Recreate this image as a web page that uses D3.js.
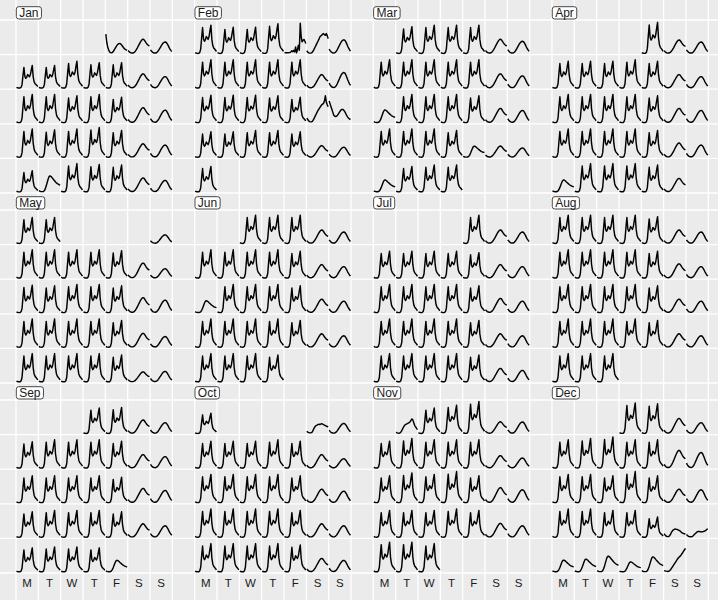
<!DOCTYPE html>
<html><head><meta charset="utf-8">
<script src="https://cdn.jsdelivr.net/npm/d3@7"></script>
<style>html,body{margin:0;padding:0;background:#EBEBEB;} svg{display:block;}</style>
</head><body>
<svg id="chart" width="718" height="600"></svg>
<script>
const year = 2016;
const monthNames = ["Jan","Feb","Mar","Apr","May","Jun","Jul","Aug","Sep","Oct","Nov","Dec"];
const dayLabels = ["M","T","W","T","F","S","S"];

// hourly profiles (counts, hour 0..23)
const profWeekday = [100,50,30,20,30,130,500,1700,2750,1550,1300,1450,1800,1650,1500,1800,2450,3000,1500,850,600,480,360,220];
const profSat = [350,220,130,80,60,60,100,180,300,460,650,850,1050,1250,1420,1550,1600,1560,1420,1250,1100,980,900,850];
const profSun = [500,330,200,120,80,70,90,170,300,480,690,900,1110,1290,1430,1510,1530,1470,1300,1080,820,600,430,280];
const profHoliday = [150,90,60,40,40,60,150,350,650,1000,1350,1620,1700,1650,1550,1420,1300,1180,1060,960,880,820,770,730];
const profNewYear = [2050,1200,700,400,200,100,80,120,220,380,550,720,870,980,1050,1070,1020,920,780,640,520,440,390,360];
const profFeb5 = [100,90,80,80,90,100,120,200,300,200,350,180,700,80,430,890,350,3200,1800,1250,1400,1500,1300,1070];
const profFeb6 = [300,150,80,50,50,80,150,300,500,700,900,1100,1300,1500,1750,1850,1950,2050,2110,2000,1930,2110,1900,1580];
const profWhiteNightSat = [500,350,200,120,100,100,150,300,500,700,900,1100,1300,1450,1600,1750,1900,1960,2050,2300,2850,2200,1900,1700];
const profWhiteNightSun = [2300,2000,1700,1400,1100,800,700,650,700,800,950,1100,1250,1380,1420,1400,1300,1150,950,750,600,480,400,350];
const profCupDay = [150,80,50,40,60,150,300,500,700,850,950,1000,1050,1100,1150,1250,1400,1550,1450,1150,850,700,550,420];
const profGrandFinal = [250,150,100,80,80,100,200,400,600,750,850,900,950,1000,950,1000,1050,1000,950,900,850,800,750,700];
const profXmasEve = [400,250,150,100,80,100,200,350,550,700,800,850,900,850,850,800,750,700,600,500,450,400,380,350];
const profXmasDay = [300,200,120,80,60,60,80,150,250,350,450,550,600,640,620,600,580,600,620,650,700,750,850,900];
const profNYE = [150,120,90,70,60,80,150,250,400,550,700,850,1000,1150,1300,1450,1550,1650,1750,1900,2050,2200,2350,2500];

// day type codes per month (one char per day, "|" = week break)
const monthCodes = [
  "Asu|wwwwwsu|wwwwwsu|wwwwwsu|whwwwsu",
  "wwwwBCu|wwwwwsu|wwwwwDG|wwwwwsu|w",
  "wwwwsu|wwwwwsu|hwwwwsu|wwwwhsu|hwww",
  "wsu|wwwwwsu|wwwwwsu|wwwwwsu|hwwwws",
  "u|wwwwwsu|wwwwwsu|wwwwwsu|wwwwwsu|ww",
  "wwwsu|wwwwwsu|hwwwwsu|wwwwwsu|wwww",
  "wsu|wwwwwsu|wwwwwsu|wwwwwsu|wwwwwsu",
  "wwwwwsu|wwwwwsu|wwwwwsu|wwwwwsu|www",
  "wwsu|wwwwwsu|wwwwwsu|wwwwwsu|wwwwh",
  "Pu|wwwwwsu|wwwwwsu|wwwwwsu|wwwwwsu|w",
  "Kwwwsu|wwwwwsu|wwwwwsu|wwwwwsu|www",
  "wwsu|wwwwwsu|wwwwwsu|wwwwwXY|hhhhhZ"
];
// daily amplitude per month
const monthAmps = [
  [1,0.95,0.8, 0.8,0.8,0.95,0.9,0.9,0.95,0.8, 1,1,0.95,1,0.9,1,0.87, 1,0.97,1,1.05,0.95,0.9,0.85, 0.75,1,1,0.97,0.95,0.93,0.8],
  [1,0.93,0.93,1.05,1,1,0.95, 1,1,1,1,1,0.9,1.08, 0.97,0.97,0.97,0.95,0.9,1,1, 0.9,0.9,0.95,0.95,0.9,0.78,0.7, 0.9],
  [0.95,1,1,1,0.95,0.85, 1,1,1,1,1,0.95,0.85, 0.8,1,1,1,0.95,0.95,0.85, 1,1,1,0.95,0.7,0.75,0.65, 0.75,0.9,0.95,0.95],
  [1.1,0.9,0.8, 0.95,0.95,0.95,1,0.95,0.9,0.8, 1,1,1,1,0.95,0.95,0.85, 1,1,1,1,0.95,0.95,0.85, 0.75,1,1,1,0.95,0.9],
  [0.6, 1,1,1,1,0.97,1,0.65, 0.97,0.95,1,1,0.95,1,0.87, 1,1,1,1,0.95,0.93,0.75, 1,1,1,1,0.95,0.67,0.73, 0.92,0.92],
  [1,1,1,0.9,0.8, 1,1,1,1,0.95,0.9,0.8, 0.75,1,1,1,0.95,0.9,0.8, 1,1,1,1,0.95,0.9,0.8, 1,1,1,0.95],
  [1,0.9,0.8, 0.95,0.95,0.95,0.95,0.9,0.9,0.8, 1,1,1,1,0.95,0.95,0.8, 1,1,1,1,0.95,0.9,0.8, 1,1,1,1,0.95,0.9,0.8],
  [1,1,1,1,0.95,0.9,0.8, 1,1,1,1,0.95,0.95,0.8, 1,1,1,1,0.95,0.9,0.8, 1,1,1,1,0.95,0.9,0.8, 1,1,1],
  [0.9,0.92,0.9,0.75, 0.93,1,1,1,0.95,0.9,0.8, 0.95,0.95,0.95,0.95,0.9,0.95,0.85, 0.9,0.95,0.95,0.95,0.9,0.9,0.8, 0.85,0.88,0.88,0.85,0.73],
  [1,0.7, 0.95,0.95,0.95,1,0.95,0.9,0.65, 1,1,1,1,0.95,0.9,0.8, 1,1,1,1,0.95,0.9,0.8, 1,1,1,1,0.95,0.9,0.8, 0.72],
  [1, 0.9,1,1.13,0.78,0.8, 0.95,1.05,1,1,1,0.83,0.7, 0.95,1.05,1,1.1,0.95,1,0.9, 0.95,0.95,0.95,1,0.95,0.93,0.8, 1.05,1.05,1],
  [1.08,1.05,1,0.75, 1,1.05,1.1,1,1,1.18,1.08, 1,1,0.95,1.1,0.95,0.9,0.9, 1,1,0.95,0.95,0.72,1,1, 0.74,0.8,0.99,0.63,0.94,1]
];

const profiles = {w:profWeekday, s:profSat, u:profSun, h:profHoliday, A:profNewYear, B:profFeb5,
  C:profFeb6, D:profWhiteNightSat, G:profWhiteNightSun, K:profCupDay, P:profGrandFinal,
  X:profXmasEve, Y:profXmasDay, Z:profNYE};

const W = 718, H = 600;
const svg = d3.select("#chart");
svg.append("rect").attr("width", W).attr("height", H).attr("fill", "#EBEBEB");

const colX = d3.scaleLinear().domain([0, 31]).range([16, 708.3]);
const cw = colX(1) - colX(0);
const bandY = d3.scaleLinear().domain([0, 2]).range([20, 400]);
const ch = 34.6;

// grid
const grid = svg.append("g").attr("stroke", "#FFFFFF").attr("stroke-width", 1.3);
d3.range(32).forEach(k => {
  grid.append("line").attr("x1", colX(k)).attr("x2", colX(k)).attr("y1", 0).attr("y2", H);
});
d3.range(3).forEach(b => {
  d3.range(6).forEach(r => {
    const y = bandY(b) + r * ch;
    grid.append("line").attr("x1", 0).attr("x2", W).attr("y1", y).attr("y2", y);
  });
});

// data
const days = [];
monthCodes.forEach((str, m) => {
  const codes = str.replace(/\|/g, "").split("");
  const first = (new Date(year, m, 1).getDay() + 6) % 7;
  codes.forEach((c, i) => {
    const pos = i + first;
    days.push({m, col: pos % 7, row: Math.floor(pos / 7) % 5,
      values: profiles[c].map(v => v * monthAmps[m][i])});
  });
});
const vmax = d3.max(days, d => d3.max(d.values));
const xH = d3.scaleLinear().domain([0, 23]).range([0.5, cw - 0.5]);
const yV = d3.scaleLinear().domain([0, vmax]).range([ch - 1, 1.5]);
const line = d3.line().x((v, h) => xH(h)).y(v => yV(v));

svg.append("g").selectAll("path").data(days).join("path")
  .attr("transform", d => `translate(${colX((d.m % 4) * 8 + d.col)},${bandY(Math.floor(d.m / 4)) + d.row * ch})`)
  .attr("d", d => line(d.values))
  .attr("fill", "none").attr("stroke", "#000").attr("stroke-width", 1.45)
  .attr("stroke-linejoin", "round").attr("stroke-linecap", "butt");

// month labels
monthNames.forEach((name, m) => {
  const x = colX((m % 4) * 8), yTop = bandY(Math.floor(m / 4));
  const g = svg.append("g");
  const rect = g.append("rect");
  const t = g.append("text").text(name).attr("x", x + 3.2).attr("y", yTop - 3.2)
    .attr("font-family", "'Liberation Sans', Arial, sans-serif").attr("font-size", 12)
    .attr("fill", "#1a1a1a");
  const tw = t.node().getComputedTextLength();
  rect.attr("x", x + 0.3).attr("y", yTop - 13.3).attr("width", tw + 5.8).attr("height", 12.3)
    .attr("rx", 2.5).attr("fill", "#FFFFFF").attr("stroke", "#333333").attr("stroke-width", 0.9);
});

// weekday labels
d3.range(4).forEach(p => {
  dayLabels.forEach((lab, k) => {
    svg.append("text").text(lab).attr("x", colX(p * 8 + k) + cw / 2).attr("y", 586.5)
      .attr("text-anchor", "middle")
      .attr("font-family", "'Liberation Sans', Arial, sans-serif").attr("font-size", 11.5)
      .attr("fill", "#1a1a1a");
  });
});
</script>
</body></html>
